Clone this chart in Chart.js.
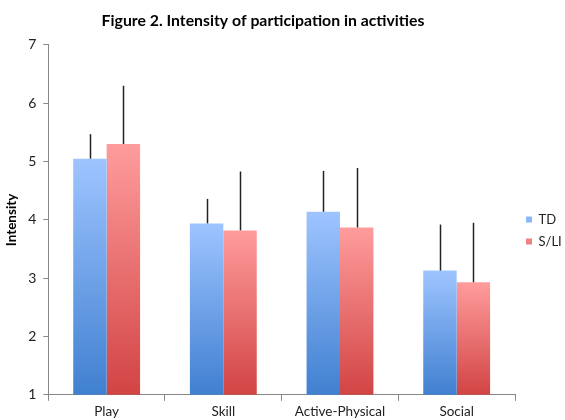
<!DOCTYPE html>
<html>
<head>
<meta charset="utf-8">
<script src="https://cdn.jsdelivr.net/npm/chart.js@4"></script>
<style>
html,body{margin:0;padding:0;background:#fff;}
#wrap{width:565px;height:420px;position:relative;}
</style>
</head>
<body>
<div id="wrap"><canvas id="c" width="565" height="420"></canvas></div>
<script>
const categories = ["Play", "Skill", "Active-Physical", "Social"];
const tdValues = [5.05, 3.94, 4.14, 3.13];
const tdErrors = [0.42, 0.42, 0.70, 0.79];
const sliValues = [5.30, 3.82, 3.87, 2.93];
const sliErrors = [1.00, 1.01, 1.02, 1.02];
const yTicks = [1, 2, 3, 4, 5, 6, 7];

function gradFill(light, dark, fallback) {
  return function (ctx) {
    const chart = ctx.chart;
    const ys = chart.scales && chart.scales.y;
    if (!ys || typeof ctx.raw !== 'number') return fallback;
    const top = ys.getPixelForValue(ctx.raw);
    const bot = ys.getPixelForValue(ys.min);
    if (!isFinite(top) || !isFinite(bot) || top === bot) return fallback;
    const g = chart.ctx.createLinearGradient(0, top, 0, bot);
    g.addColorStop(0, light);
    g.addColorStop(1, dark);
    return g;
  };
}

const errorBars = {
  id: 'errorBars',
  afterDatasetsDraw(chart) {
    const c = chart.ctx;
    const ys = chart.scales.y;
    chart.data.datasets.forEach((ds, di) => {
      const meta = chart.getDatasetMeta(di);
      if (meta.hidden) return;
      meta.data.forEach((el, i) => {
        const v = ds.data[i], e = ds.errors[i];
        const y0 = ys.getPixelForValue(v);
        const y1 = ys.getPixelForValue(v + e);
        c.save();
        c.strokeStyle = '#222';
        c.lineWidth = 1.5;
        c.beginPath();
        c.moveTo(Math.round(el.x) + 0.5, y0);
        c.lineTo(Math.round(el.x) + 0.5, y1);
        c.stroke();
        c.restore();
      });
    });
  }
};

const boxTweaks = {
  id: 'boxTweaks',
  afterInit(chart) {
    const lg = chart.legend;
    if (lg && !lg._tweaked) {
      const origFit = lg.fit;
      lg.fit = function () {
        origFit.call(this);
        this.width = 50;
      };
      const origDraw = lg.draw;
      lg.draw = function () {
        const c = this.ctx;
        c.save();
        c.translate(2, 17);
        origDraw.call(this);
        c.restore();
      };
      lg._tweaked = true;
    }
    const tb = chart.titleBlock;
    if (tb && !tb._tweaked) {
      const origDraw = tb.draw;
      tb.draw = function () {
        const c = this.ctx;
        c.save();
        c.translate(-21, 0);
        origDraw.call(this);
        c.restore();
      };
      tb._tweaked = true;
    }
  }
};

new Chart(document.getElementById('c'), {
  type: 'bar',
  data: {
    labels: categories,
    datasets: [
      { label: 'TD', data: tdValues, errors: tdErrors,
        backgroundColor: gradFill('#9ec4ff', '#4080d0', '#5b8fdc'),
        categoryPercentage: 0.573, barPercentage: 1.0 },
      { label: 'S/LI', data: sliValues, errors: sliErrors,
        backgroundColor: gradFill('#ff9c9c', '#d24444', '#e05a5a'),
        categoryPercentage: 0.573, barPercentage: 1.0 }
    ]
  },
  options: {
    responsive: false,
    animation: false,
    devicePixelRatio: 1,
    layout: { padding: { left: 3, right: 0, top: 4, bottom: -3 } },
    plugins: {
      title: {
        display: true,
        text: 'Figure 2. Intensity of participation in activities',
        font: { family: 'Lato', size: 15.8, weight: 'bold' },
        color: '#000',
        padding: { top: 7, bottom: 15 }
      },
      legend: {
        position: 'right',
        labels: {
          boxWidth: 6, boxHeight: 6, padding: 9,
          font: { family: 'Lato', size: 13 }, color: '#222'
        }
      },
      tooltip: { enabled: false }
    },
    scales: {
      x: {
        grid: { display: true, drawOnChartArea: false, tickLength: 6, color: '#868686' },
        border: { color: '#868686' },
        ticks: { font: { family: 'Lato', size: 13.5 }, color: '#222', padding: 3 }
      },
      y: {
        min: 1, max: 7,
        afterBuildTicks(scale) { scale.ticks = yTicks.map(v => ({ value: v })); },
        grid: { display: true, drawOnChartArea: false, tickLength: 5, color: '#868686' },
        border: { color: '#868686' },
        ticks: { font: { family: 'Lato', size: 14 }, color: '#222', padding: 7 },
        title: { display: true, text: 'Intensity', font: { family: 'Lato', size: 13.5, weight: 'bold' }, color: '#000', padding: 1 }
      }
    }
  },
  plugins: [errorBars, boxTweaks]
});
</script>
</body>
</html>
